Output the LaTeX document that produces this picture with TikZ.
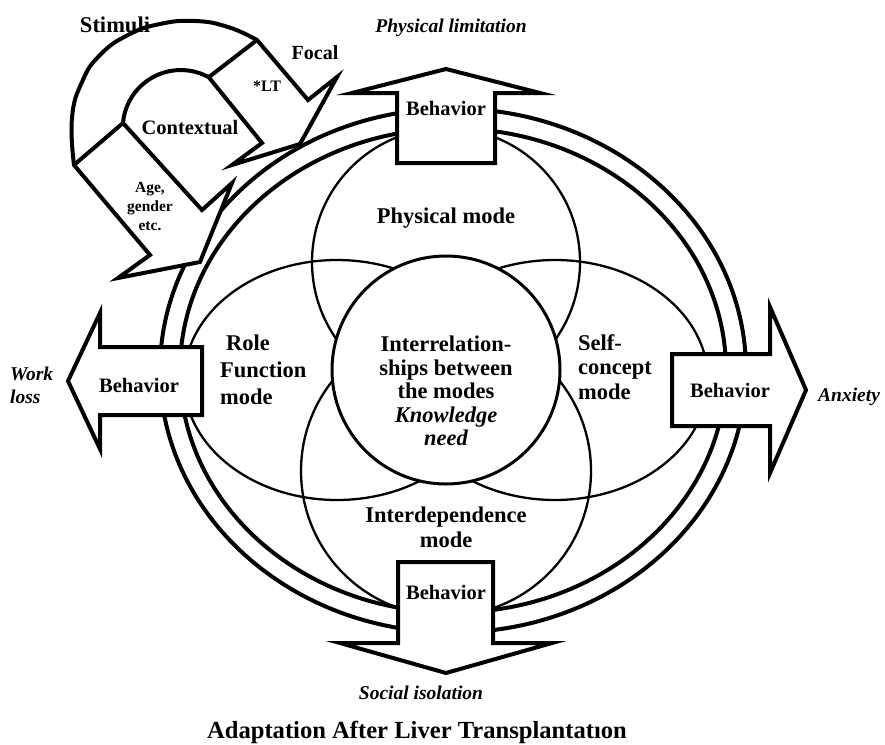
\documentclass[tikz,border=0pt]{standalone}
\usepackage{fontspec}
\setmainfont{Liberation Serif}
\usepackage{tikz}
\tikzset{
  ring/.style={line width=4pt},
  lobe/.style={line width=2.3pt},
  core/.style={line width=3pt,fill=white},
  bigarrow/.style={draw,fill=white,line width=4pt},
  band/.style={draw,fill=white,line width=4pt},
  txt/.style={font=\bfseries\fontsize{22.5}{23.5}\selectfont,align=center,inner sep=0pt},
  beh/.style={font=\bfseries\fontsize{20.5}{22}\selectfont,inner sep=0pt},
  outc/.style={font=\bfseries\itshape\fontsize{19.5}{23}\selectfont,inner sep=0pt},
  stim/.style={font=\bfseries\fontsize{20}{19}\selectfont,align=center,inner sep=0pt},
}

\begin{document}
\begin{tikzpicture}[x=1pt,y=-1pt]
\useasboundingbox (0,0) rectangle (885,744);
% the four modes
\foreach \cx/\cy/\rx/\ry in {446/262/134/134,446/471/145/145,337/380/153/120,555/380/153/120}
  \draw[lobe] (\cx,\cy) ellipse[x radius=\rx,y radius=\ry];
\draw[core] (446,370) circle[radius=114];
% double ring
\foreach \rx/\ry in {293/262,273/242}
  \draw[ring] (453,370.5) ellipse[x radius=\rx,y radius=\ry];
% behaviour arrows
\draw[bigarrow] (397,163) -- (397,93) -- (352,93) -- (446,69) -- (540,93) -- (495,93) -- (495,163) -- cycle;
\draw[bigarrow] (398,562) -- (398,643) -- (340,643) -- (446,673) -- (552,643) -- (493,643) -- (493,562) -- cycle;
\draw[bigarrow] (202,347) -- (100,347) -- (100,313) -- (68,381) -- (100,449) -- (100,415) -- (202,415) -- cycle;
\draw[bigarrow] (672,354) -- (770,354) -- (770,307) -- (806,390) -- (770,473) -- (770,426) -- (672,426) -- cycle;
% stimuli band with focal and residual heads
\draw[band] (74,165) -- (150,255) -- (118,278) -- (200,262) -- (232,183) -- (202,210) -- (123,123)
  arc[start angle=-175,end angle=-61,radius=58] -- (262,143) -- (232,165) -- (300,144) -- (337,77)
  -- (308,100) -- (257,40)
  -- plot[smooth,tension=0.8] coordinates {(257,40) (228,27) (195,21) (160,24) (128,35) (100,55) (82,82) (72,118) (74,165)}
  -- cycle;
\draw[line width=4pt] (257,40) -- (209,77) (74,165) -- (123,123);

% labels
\node[txt,font=\bfseries\fontsize{22.5}{24}\selectfont] (stimuli) at (115,25) {Stimuli};
\node[stim] (focal) at (315,53) {Focal};
\node[stim,font=\bfseries\fontsize{16}{18}\selectfont] (lt) at (267,86) {*LT};
\node[stim,font=\bfseries\fontsize{20.5}{22}\selectfont] (context) at (190,128) {Contextual};
\node[stim,font=\bfseries\fontsize{15.5}{19}\selectfont] (residual) at (150,206) {Age,\\gender\\etc.};

\node[txt] (physical) at (446,218) {Physical mode};
\node[txt] (inter) at (446,391) {Interrelation-\\ships between\\the modes\\{\itshape Knowledge}\\{\itshape need}};
\node[txt,align=left,anchor=west,font=\bfseries\fontsize{22.5}{27}\selectfont] (role) at (220,370) {\hspace*{6pt}Role\\Function\\mode};
\node[txt,align=left,anchor=west,font=\bfseries\fontsize{22.5}{24.5}\selectfont] (self) at (578,367) {Self-\\concept\\mode};
\node[txt,font=\bfseries\fontsize{22.5}{25}\selectfont] (interdep) at (446,527) {Interdependence\\mode};

\node[beh] (btop) at (446,108) {Behavior};
\node[beh] (bbottom) at (446,592) {Behavior};
\node[beh] (bleft) at (139,385) {Behavior};
\node[beh] (bright) at (730,390) {Behavior};

\node[outc] (limit) at (451,28) {Physical limitation};
\node[outc] (social) at (421,693) {Social isolation};
\node[outc,align=left,anchor=west] (work) at (10,385) {Work\\loss};
\node[outc,anchor=west] (anxiety) at (818,397) {Anxiety};

\node[txt,font=\bfseries\fontsize{24.6}{26}\selectfont] (title) at (417,732) {Adaptation After Liver Transplantatıon};
\end{tikzpicture}
\end{document}
